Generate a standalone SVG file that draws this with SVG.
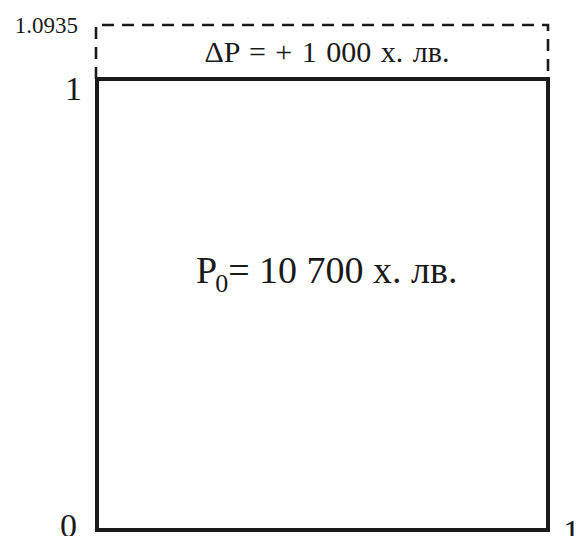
<svg xmlns="http://www.w3.org/2000/svg" width="576" height="536" viewBox="0 0 576 536">
<style>
.t{font-family:"Liberation Serif","Times New Roman",serif;fill:#1a1a1a}
.solid{fill:none;stroke:#1a1a1a;stroke-width:4}
.dash{fill:none;stroke:#1a1a1a;stroke-width:2.6;stroke-dasharray:12,8}
</style>
<rect width="576" height="536" fill="#fff"/>
<g id="increase">
<path class="dash" d="M96,79 V25 H548 V79"/>
<text class="t" x="327" y="62" font-size="30" word-spacing="2" text-anchor="middle">ΔP = + 1 000 х. лв.</text>
</g>
<g id="base">
<rect class="solid" x="97" y="79" width="451" height="451"/>
<text class="t" x="196" y="283" font-size="38">P<tspan font-size="26" dx="-2" dy="9">0</tspan><tspan dy="-9">= 10 700 х. лв.</tspan></text>
</g>
<g id="axis-labels">
<text class="t" x="78" y="33" font-size="23" text-anchor="end">1.0935</text>
<text class="t" x="82" y="100" font-size="34" text-anchor="end">1</text>
<text class="t" x="77" y="537" font-size="34" text-anchor="end">0</text>
<text class="t" x="563" y="543" font-size="34">1</text>
</g>
</svg>
